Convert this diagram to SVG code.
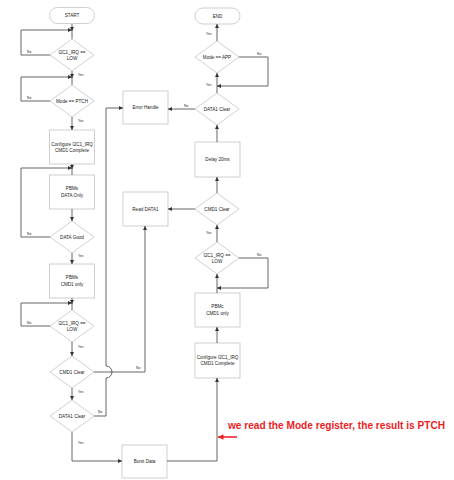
<svg xmlns="http://www.w3.org/2000/svg" width="454" height="480" viewBox="0 0 454 480">
<style>
.bx{fill:#fff;stroke:#c4c4c4;stroke-width:0.8}
.t{font-family:"Liberation Sans",Arial,sans-serif;font-size:4.6px;fill:#222;text-anchor:middle}
.l{font-family:"Liberation Sans",Arial,sans-serif;font-size:3.3px;fill:#222}
.c{fill:none;stroke:#555;stroke-width:0.9}
.red{font-family:"Liberation Sans",Arial,sans-serif;font-size:10.5px;font-weight:bold;fill:#ec1c24}
</style>
<defs>
<marker id="ah" viewBox="0 0 10 10" refX="10" refY="5" markerWidth="4.5" markerHeight="4.2" orient="auto" markerUnits="userSpaceOnUse">
<path d="M0,0 L10,5 L0,10z" fill="#333"/>
</marker>
<marker id="rah" viewBox="0 0 10 10" refX="10" refY="5" markerWidth="6" markerHeight="5.5" orient="auto" markerUnits="userSpaceOnUse">
<path d="M0,0 L10,5 L0,10z" fill="#ec1c24"/>
</marker>
</defs>
<rect width="454" height="480" fill="#fff"/>

<!-- Left column -->
<g id="start"><rect class="bx" x="49.5" y="7.5" width="45" height="16" rx="8"/><text class="t" x="72" y="17.3">START</text></g>
<g id="l_irq1"><polygon class="bx" points="72,39 94,55 72,71 50,55"/><text class="t" x="72" y="53.6">I2C1_IRQ ==</text><text class="t" x="72" y="59.8">LOW</text></g>
<g id="l_mode"><polygon class="bx" points="72,85 94,101 72,117 50,101"/><text class="t" x="72" y="102.6">Mode == PTCH</text></g>
<g id="l_cfg"><rect class="bx" x="49.5" y="130" width="45" height="34"/><text class="t" x="72" y="146">Configure I2C1_IRQ</text><text class="t" x="72" y="152.2">CMD1 Complete</text></g>
<g id="l_pbms1"><rect class="bx" x="49.5" y="175" width="45" height="34"/><text class="t" x="72" y="190">PBMs</text><text class="t" x="72" y="196.6">DATA Only</text></g>
<g id="l_datagood"><polygon class="bx" points="72,221 94,237 72,253 50,237"/><text class="t" x="72" y="238.6">DATA Good</text></g>
<g id="l_pbms2"><rect class="bx" x="49.5" y="264" width="45" height="34"/><text class="t" x="72" y="279">PBMs</text><text class="t" x="72" y="285.6">CMD1 only</text></g>
<g id="l_irq2"><polygon class="bx" points="72,310 94,326 72,342 50,326"/><text class="t" x="72" y="324.6">I2C1_IRQ ==</text><text class="t" x="72" y="330.8">LOW</text></g>
<g id="l_cmd1"><polygon class="bx" points="72,356 94,372 72,388 50,372"/><text class="t" x="72" y="373.6">CMD1 Clear</text></g>
<g id="l_data1"><polygon class="bx" points="72,400 94,416 72,432 50,416"/><text class="t" x="72" y="417.6">DATA1 Clear</text></g>

<!-- Middle -->
<g id="err"><rect class="bx" x="123" y="91" width="45" height="33"/><text class="t" x="145.5" y="109">Error Handle</text></g>
<g id="read"><rect class="bx" x="123" y="192" width="45" height="34"/><text class="t" x="145.5" y="210.5">Read DATA1</text></g>
<g id="burst"><rect class="bx" x="122" y="445" width="45" height="33"/><text class="t" x="144.5" y="463">Burst Data</text></g>

<!-- Right column -->
<g id="end"><rect class="bx" x="195" y="8" width="45" height="16" rx="8"/><text class="t" x="217.5" y="17.6">END</text></g>
<g id="r_mode"><polygon class="bx" points="217,41 239,57 217,73 195,57"/><text class="t" x="217" y="58.6">Mode == APP</text></g>
<g id="r_data1"><polygon class="bx" points="217,93 239,109 217,125 195,109"/><text class="t" x="217" y="110.6">DATA1 Clear</text></g>
<g id="r_delay"><rect class="bx" x="195" y="142" width="45" height="35"/><text class="t" x="217.5" y="161">Delay 20ms</text></g>
<g id="r_cmd1"><polygon class="bx" points="217,193 239,209 217,225 195,209"/><text class="t" x="217" y="210.6">CMD1 Clear</text></g>
<g id="r_irq"><polygon class="bx" points="217,242 239,258 217,274 195,258"/><text class="t" x="217" y="256.6">I2C1_IRQ ==</text><text class="t" x="217" y="262.8">LOW</text></g>
<g id="r_pbmc"><rect class="bx" x="195" y="293" width="45" height="34"/><text class="t" x="217.5" y="308">PBMc</text><text class="t" x="217.5" y="314.6">CMD1 only</text></g>
<g id="r_cfg"><rect class="bx" x="195" y="343" width="45" height="35"/><text class="t" x="217.5" y="359">Configure I2C1_IRQ</text><text class="t" x="217.5" y="365.2">CMD1 Complete</text></g>

<g id="connectors">
<path class="c" d="M72,24 V31" marker-end="url(#ah)"/>
<path class="c" d="M72,30 V39"/>
<path class="c" d="M50,55 H21 V30 H72" marker-end="url(#ah)"/>
<path class="c" d="M72,71 V78" marker-end="url(#ah)"/>
<path class="c" d="M72,77 V85"/>
<path class="c" d="M50,101 H21 V77 H72" marker-end="url(#ah)"/>
<path class="c" d="M72,117 V130" marker-end="url(#ah)"/>
<path class="c" d="M72,164 V169" marker-end="url(#ah)"/>
<path class="c" d="M72,168 V175"/>
<path class="c" d="M50,237 H21 V168 H72" marker-end="url(#ah)"/>
<path class="c" d="M72,209 V221" marker-end="url(#ah)"/>
<path class="c" d="M72,253 V264" marker-end="url(#ah)"/>
<path class="c" d="M72,298 V304" marker-end="url(#ah)"/>
<path class="c" d="M72,303 V310"/>
<path class="c" d="M50,326 H21 V303 H72" marker-end="url(#ah)"/>
<path class="c" d="M72,342 V356" marker-end="url(#ah)"/>
<path class="c" d="M72,388 V400" marker-end="url(#ah)"/>
<path class="c" d="M72,432 V461 H122" marker-end="url(#ah)"/>
<path class="c" d="M94,372 H145 V226" marker-end="url(#ah)"/>
<path class="c" d="M94,416 H106 V378 A6,6 0 0 0 106,366 V108 H123" marker-end="url(#ah)"/>
<path class="c" d="M167,461 H217 V378" marker-end="url(#ah)"/>
<path class="c" d="M217,41 V24" marker-end="url(#ah)"/>
<path class="c" d="M239,57 H268 V86 H217" marker-end="url(#ah)"/>
<path class="c" d="M217,93 V73" marker-end="url(#ah)"/>
<path class="c" d="M195,109 H168" marker-end="url(#ah)"/>
<path class="c" d="M217,142 V125" marker-end="url(#ah)"/>
<path class="c" d="M217,193 V177" marker-end="url(#ah)"/>
<path class="c" d="M195,209 H168" marker-end="url(#ah)"/>
<path class="c" d="M217,242 V225" marker-end="url(#ah)"/>
<path class="c" d="M239,258 H268 V288 H217" marker-end="url(#ah)"/>
<path class="c" d="M217,293 V274" marker-end="url(#ah)"/>
<path class="c" d="M217,343 V327" marker-end="url(#ah)"/>
</g>

<g id="labels">
<text class="l" x="27" y="53">No</text>
<text class="l" x="78" y="76">Yes</text>
<text class="l" x="27" y="99">No</text>
<text class="l" x="78" y="122">Yes</text>
<text class="l" x="27" y="235">No</text>
<text class="l" x="78" y="257">Yes</text>
<text class="l" x="27" y="324">No</text>
<text class="l" x="78" y="348">Yes</text>
<text class="l" x="136" y="369">No</text>
<text class="l" x="78" y="393">Yes</text>
<text class="l" x="98" y="413">No</text>
<text class="l" x="78" y="444">Yes</text>
<text class="l" x="206" y="35">Yes</text>
<text class="l" x="257" y="55">No</text>
<text class="l" x="206" y="86">Yes</text>
<text class="l" x="184" y="107">No</text>
<text class="l" x="206" y="234">Yes</text>
<text class="l" x="257" y="256">No</text>
</g>

<g id="annotation">
<path d="M237,437 H218" stroke="#ec1c24" stroke-width="1.5" fill="none" marker-end="url(#rah)"/>
<text class="red" x="228" y="429" textLength="217" lengthAdjust="spacingAndGlyphs">we read the Mode register, the result is PTCH</text>
</g>
</svg>
